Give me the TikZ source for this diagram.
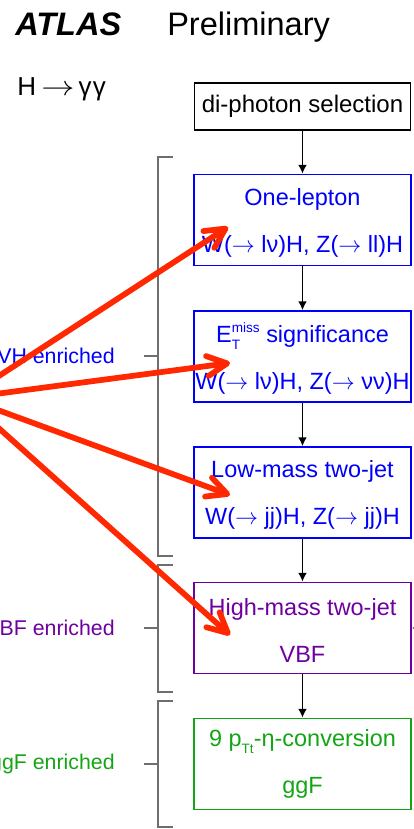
\documentclass[tikz,border=0pt]{standalone}
\usepackage{fontspec}
\usepackage{graphicx}
\setmainfont{Liberation Sans}
\usetikzlibrary{arrows.meta}
\definecolor{vhblue}{RGB}{0,0,250}
\definecolor{vbfpurple}{RGB}{110,0,160}
\definecolor{ggfgreen}{RGB}{20,165,20}
\definecolor{arrred}{RGB}{255,40,0}
\definecolor{brgray}{RGB}{110,110,110}
\newcommand{\boxfont}{\fontsize{17.6}{35.25}\selectfont}
\newcommand{\smallfont}{\fontsize{10.2}{11}\selectfont}
\newcommand{\myarr}{\(\rightarrow\)}
\begin{document}
\begin{tikzpicture}[x=0.75pt,y=-0.75pt,
  catframe/.style={draw,line width=1.4pt,inner sep=0pt,minimum width=162.75pt,minimum height=68.25pt},
  boxtext/.style={inner sep=0pt,align=center,font=\boxfont},
  flowarrow/.style={line width=1.1pt,-{Latex[length=6.5pt,width=6.5pt]}},
  bracket/.style={brgray,line width=1.5pt},
  catlabel/.style={anchor=east,font=\fontsize{16}{18}\selectfont,inner sep=0pt},
  redarrow/.style={arrred,line width=4.3pt,line cap=round,line join=round,-{Straight Barb[length=15pt,width=15pt,line cap=round,line join=round]}}]
\useasboundingbox (0,0) rectangle (414,829);
\clip (0,0) rectangle (414,829);

% titles
\node[anchor=base west,inner sep=0pt,font=\fontsize{24.4}{26}\selectfont\bfseries\itshape] (atlas) at (15,35) {ATLAS};
\node[anchor=base west,inner sep=0pt,font=\fontsize{24.4}{26}\selectfont] (prelim) at (167,35) {Preliminary};
\node[anchor=base west,inner sep=0pt,font=\fontsize{19.5}{21}\selectfont] (hgg) at (17,95) {H\hspace{4pt}\scalebox{1.2}[1]{\myarr}\hspace{3pt}γ\hspace{1pt}γ};

% boxes
\node[draw,line width=1.4pt,inner sep=0pt,minimum width=162pt,minimum height=35.25pt,font=\fontsize{18}{20}\selectfont] (dp) at (302.5,106.5) {di-photon selection};
\node[catframe,vhblue] (b1) at (302.5,220) {};
\node[catframe,vhblue] (b2) at (302.5,356.5) {};
\node[catframe,vhblue] (b3) at (302.5,492.5) {};
\node[catframe,vbfpurple] (b4) at (302.5,628) {};
\node[catframe,ggfgreen] (b5) at (302.5,764) {};
\node[boxtext,vhblue] (b1t) at ([yshift=-2.5pt]b1.center) {One-lepton\\W(\myarr\ lν)H, Z(\myarr\ ll)H};
\node[boxtext,vhblue] (b2t) at ([yshift=-1.5pt]b2.center) {E\rlap{\raisebox{-5pt}{\smallfont T}}\raisebox{8pt}{\smallfont miss} significance\\W(\myarr\ lν)H, Z(\myarr\ νν)H};
\node[boxtext,vhblue] (b3t) at ([yshift=-1.5pt]b3.center) {Low-mass two-jet\\W(\myarr\ jj)H, Z(\myarr\ jj)H};
\node[boxtext,vbfpurple] (b4t) at ([yshift=-1.5pt]b4.center) {High-mass two-jet\\VBF};
\node[boxtext,ggfgreen] (b5t) at ([yshift=0pt]b5.center) {9 p\raisebox{-5pt}{\smallfont Tt}-η-conversion\\ggF};

% flow arrows
\draw[flowarrow] (dp.south) -- (b1.north);
\draw[flowarrow] (b1.south) -- (b2.north);
\draw[flowarrow] (b2.south) -- (b3.north);
\draw[flowarrow] (b3.south) -- (b4.north);
\draw[flowarrow] (b4.south) -- (b5.north);
\coordinate (rin) at (430,628);
\draw[flowarrow] (rin) -- (b4.east);

% brackets
\draw[bracket] (173,157) -- (158,157) -- (158,556) -- (173,556);
\draw[bracket] (144,356) -- (158,356);
\draw[bracket] (173,565) -- (158,565) -- (158,692) -- (173,692);
\draw[bracket] (144,628) -- (158,628);
\draw[bracket] (173,701) -- (158,701) -- (158,827) -- (173,827);
\draw[bracket] (144,764) -- (158,764);

% category labels
\node[catlabel,vhblue] (lvh) at (115,356) {VH enriched};
\node[catlabel,vbfpurple] (lvbf) at (115,628) {VBF enriched};
\node[catlabel,ggfgreen] (lggf) at (115,764) {ggF enriched};

% red arrows
\coordinate (o) at (-35,398);
\coordinate (t1) at (228,227);
\coordinate (t2) at (230,363);
\coordinate (t3) at (230,495);
\coordinate (t4) at (230,635);
\draw[redarrow] (o) -- (t1);
\draw[redarrow] (o) -- (t2);
\draw[redarrow] (o) -- (t3);
\draw[redarrow] (o) -- (t4);
\end{tikzpicture}
\end{document}
